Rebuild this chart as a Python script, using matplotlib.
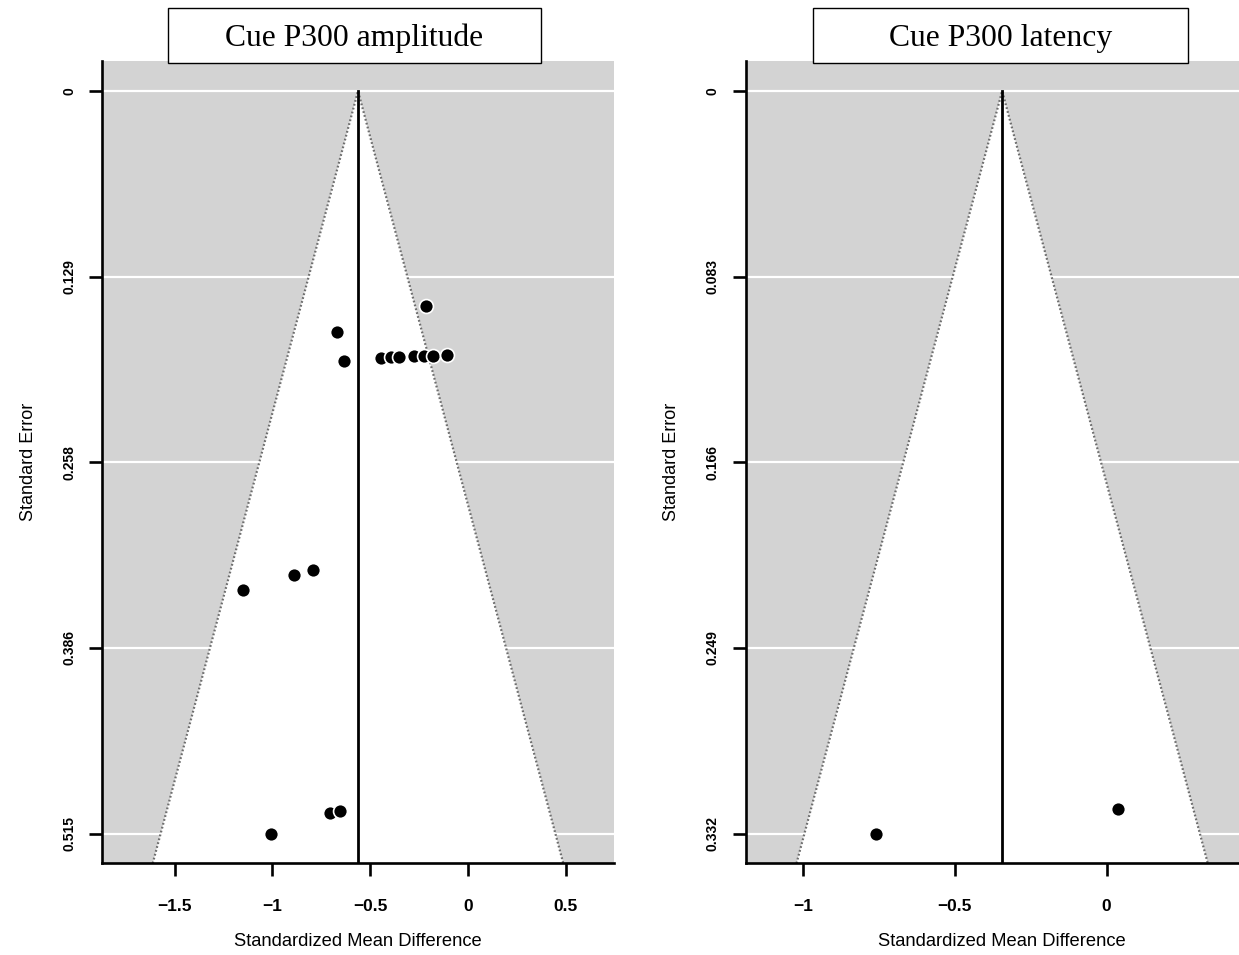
import numpy as np
import matplotlib
matplotlib.use("Agg")
import matplotlib.pyplot as plt
from matplotlib.patches import Polygon, Rectangle
from matplotlib.transforms import blended_transform_factory

# ---------------- data ----------------
amp_title = "Cue P300 amplitude"
amp_smd = [-0.215, -0.669, -0.634, -0.447, -0.395, -0.351, -0.276, -0.225,
           -0.177, -0.109, -1.152, -0.888, -0.791, -0.706, -0.655, -1.009]
amp_se = [0.149, 0.167, 0.187, 0.1852, 0.1845, 0.1845, 0.1838, 0.1838,
          0.1838, 0.1831, 0.346, 0.336, 0.332, 0.501, 0.499, 0.515]
amp_est = -0.5625
amp_xticks = [-1.5, -1.0, -0.5, 0.0, 0.5]
amp_xticklabels = ["\u22121.5", "\u22121", "\u22120.5", "0", "0.5"]
amp_yticklabels = ["0", "0.129", "0.258", "0.386", "0.515"]

lat_title = "Cue P300 latency"
lat_smd = [-0.759, 0.037]
lat_se = [0.332, 0.321]
lat_est = -0.344
lat_xticks = [-1.0, -0.5, 0.0]
lat_xticklabels = ["\u22121", "\u22120.5", "0"]
lat_yticklabels = ["0", "0.083", "0.166", "0.249", "0.332"]

xlabel = "Standardized Mean Difference"
ylabel = "Standard Error"

# ---------------- figure ----------------
W, H = 1239, 955
fig = plt.figure(figsize=(W / 100, H / 100), dpi=100)

GRAY = "#D3D3D3"
SANS = ["Liberation Sans", "DejaVu Sans"]
SERIF = ["Liberation Serif", "DejaVu Serif"]


def funnel(ax, smd, se, est, xticks, xticklabels, yticklabels):
    maxse = max(se)
    # R-like limits: funnel range +10%, then 4% axis expansion
    lo = min(est - 1.96 * maxse, min(smd))
    hi = max(est + 1.96 * maxse, max(smd))
    r = hi - lo
    lo, hi = lo - 0.10 * r, hi + 0.10 * r
    r = hi - lo
    xlim = (lo - 0.04 * r, hi + 0.04 * r)
    ylim = (maxse * 1.04, -maxse * 0.04)
    ax.set_xlim(*xlim)
    ax.set_ylim(*ylim)
    ax.set_facecolor(GRAY)

    yt = np.linspace(0, maxse, 5)
    for v in yt:
        ax.axhline(v, color="white", lw=1.6, zorder=1)

    ybot = ylim[0]
    poly = Polygon([[est - 1.96 * ybot, ybot], [est, 0], [est + 1.96 * ybot, ybot]],
                   closed=True, facecolor="white", edgecolor="none", zorder=2)
    ax.add_patch(poly)
    ax.plot([est - 1.96 * ybot, est, est + 1.96 * ybot], [ybot, 0, ybot],
            color="#6E6E6E", lw=1.6, ls=(0, (0.8, 1.0)), zorder=3)
    ax.plot([est, est], [0, ybot], color="black", lw=2.0, zorder=3)

    ax.plot(smd, se, ls="none", marker="o", ms=10, mfc="black", mec="white",
            mew=1.2, zorder=5, clip_on=False)

    for s in ["top", "right"]:
        ax.spines[s].set_visible(False)
    for s in ["left", "bottom"]:
        ax.spines[s].set_linewidth(1.9)
        ax.spines[s].set_zorder(6)

    ax.set_xticks(xticks)
    ax.set_xticklabels(xticklabels, fontfamily=SANS, fontweight="bold", fontsize=12.5)
    ax.tick_params(axis="x", direction="out", length=9.5, width=1.9, pad=16)
    ax.set_yticks(yt)
    ax.set_yticklabels([])
    ax.tick_params(axis="y", direction="out", length=9.5, width=1.9)
    tr = blended_transform_factory(ax.transAxes, ax.transData)
    ax_w_px = ax.get_position().width * W
    xoff = -(101 - 68) / ax_w_px
    for v, lab in zip(yt, yticklabels):
        ax.text(xoff, v, lab, transform=tr, rotation=90, ha="center", va="center",
                fontfamily=SANS, fontweight="bold", fontsize=10)

    ax.set_xlabel(xlabel, fontfamily=SANS, fontsize=13.2)
    ax.xaxis.set_label_coords(0.5, -0.097)
    ax.xaxis.label.set_va("center")
    ax.set_ylabel(ylabel, fontfamily=SANS, fontsize=13)
    ax.yaxis.set_label_coords(-(101 - 27) / ax_w_px, 0.5)
    ax.yaxis.label.set_va("center")


bottom = 1 - 863.3 / H
height = 802 / H
ax1 = fig.add_axes([102.2 / W, bottom, 511.6 / W, height])
ax2 = fig.add_axes([745.9 / W, bottom, 512.5 / W, height])

funnel(ax1, amp_smd, amp_se, amp_est, amp_xticks, amp_xticklabels, amp_yticklabels)
funnel(ax2, lat_smd, lat_se, lat_est, lat_xticks, lat_xticklabels, lat_yticklabels)


def title_box(x0, x1, y0, y1, text):
    rect = Rectangle((x0 / W, 1 - y1 / H), (x1 - x0) / W, (y1 - y0) / H,
                     transform=fig.transFigure, facecolor="white", edgecolor="black",
                     lw=1.0, zorder=10)
    fig.patches.append(rect)
    fig.text((x0 + x1) / 2 / W, 1 - ((y0 + y1) / 2 + 3) / H, text, ha="center", va="center",
             fontfamily=SERIF, fontsize=22.8, zorder=11)


title_box(168, 541, 8, 63, amp_title)
title_box(813, 1188, 8, 63, lat_title)

fig.savefig("out.png", dpi=100)
